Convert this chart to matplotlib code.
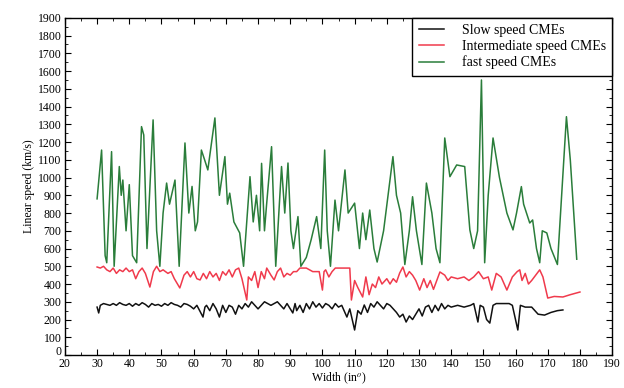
import matplotlib
matplotlib.use("Agg")
import matplotlib.pyplot as plt
from matplotlib.ticker import MultipleLocator
from matplotlib.transforms import ScaledTranslation

# fast speed CMEs (green)
fast_w = [30, 31.4, 32.5, 33, 34.5, 35.3, 36.9, 37.5, 38, 39, 40, 41, 42.3, 43.8, 44.5, 45.5,
          47.4, 48.5, 49.5, 50.5, 51.6, 52.5, 54.2, 55.5, 57.3, 58.5, 59.5, 60.5, 61.2, 62.4,
          63.4, 64.4, 66.6, 68, 69.7, 70.5, 71.2, 72.5, 74.3, 75.5, 77.5, 78.5, 79.5, 80.5,
          81.1, 82, 82.6, 84.2, 85.5, 87.3, 88.3, 89.3, 90.2, 91, 92.4, 93.3, 95, 96.5, 98.2,
          99.5, 100.7, 101.5, 102.5, 103.9, 105, 107, 108, 110, 111.5, 112.5, 113.5, 114.7,
          116, 117, 119, 121.9, 123, 124.3, 125.6, 127, 128, 129.2, 130.9, 132.3, 134, 135.3,
          136.5, 138, 139.6, 141.7, 144.2, 145.8, 147, 148.2, 149.4, 150.4, 151.5, 153, 155,
          157.3, 159.2, 160.3, 161.8, 162.5, 164.4, 165.3, 166.5, 167.5, 168.3, 169.7, 171,
          173, 175.8, 177, 179]
fast_v = [880, 1155, 560, 520, 1146, 500, 1062, 900, 986, 700, 960, 560, 520, 1287, 1240, 600,
          1325, 700, 500, 800, 969, 850, 986, 500, 1195, 800, 950, 700, 750, 1155,
          1100, 1043, 1336, 900, 1118, 850, 912, 750, 688, 500, 1005, 750, 900, 700,
          1080, 700, 836, 1174, 500, 1062, 800, 1082, 700, 600, 780, 500, 550, 650, 780,
          600, 1155, 700, 500, 873, 700, 1043, 800, 856, 600, 800, 650, 817,
          600, 524, 700, 1118, 900, 800, 510, 700, 892, 700, 510, 969, 800, 600,
          520, 1223, 1005, 1071, 1062, 705, 600, 700, 1550, 520, 900, 1223, 1000,
          800, 705, 800, 949, 850, 744, 761, 600, 520, 700, 688, 600,
          510, 1343, 1100, 540]

# intermediate speed CMEs (red)
mid_w = [30, 31, 32, 33, 34, 35, 36, 37, 38, 39, 40, 41, 42, 43, 44, 45, 46.4, 47.5, 48.5,
         49.5, 50.5, 52, 53, 54, 55.7, 57, 58, 59, 60, 61, 62, 63, 64, 65, 66, 67, 68, 69,
         70, 71, 72, 73, 74, 75, 76.5, 77, 78, 79, 80, 81, 82, 82.7, 84, 85, 86, 87, 88,
         89, 90, 91, 92, 93, 95, 97, 99, 100, 100.5, 101, 102, 103, 104, 106, 108.5, 109,
         110, 111, 112.5, 113.5, 114.5, 115.5, 116.5, 117.5, 118.5, 120, 121, 122, 123,
         124, 125, 126, 127, 128, 129, 130.2, 131.5, 132.5, 133.5, 134.5, 136.5, 138, 139,
         140, 142, 144, 145.5, 147, 148.5, 150, 151.5, 152.6, 154, 155.5, 157.3, 159,
         160.5, 161.3, 162, 163, 164, 165, 167.5, 168.5, 170, 172, 174.7, 177, 180]
mid_v = [496, 490, 500, 480, 470, 490, 460, 480, 470, 490, 470, 480, 430, 470, 490, 460, 383,
         470, 500, 470, 480, 460, 470, 430, 378, 450, 470, 440, 470, 430, 423, 460, 430,
         470, 440, 460, 420, 470, 450, 480, 440, 480, 490, 430, 310, 440, 420, 470, 380,
         470, 430, 490, 450, 423, 470, 490, 440, 460, 450, 470, 470, 490, 490, 470, 470,
         366, 470, 480, 440, 470, 490, 490, 490, 310, 420, 380, 327, 440, 340, 400, 380,
         440, 400, 430, 400, 430, 410, 462, 496, 440, 470, 450, 420, 366, 430, 380, 420,
         370, 468, 450, 420, 440, 430, 440, 420, 440, 470, 430, 440, 366, 460, 440, 366,
         440, 470, 480, 420, 460, 400, 420, 480, 440, 321, 330, 327, 340, 355]

# slow speed CMEs (black)
slow_w = [30, 30.5, 31, 32, 33, 34, 35, 36, 37, 38, 39, 40, 41, 42, 43, 44, 45, 46, 47, 48,
          49, 50, 51, 52, 53, 54, 55, 56, 57, 58, 59, 60, 61, 62.9, 63.5, 64, 65, 66, 67, 68,
          69, 70, 71, 72, 73, 74, 75, 76, 77, 78, 79, 80, 81, 82, 83, 84, 85, 86, 87, 88, 89,
          90.8, 91.5, 92, 93, 94, 95, 96, 97, 98, 99, 100, 101, 102, 103, 104, 105, 106,
          107.6, 108.5, 109, 110, 111, 112, 113, 114, 115, 116, 117, 118, 119, 120, 121, 122,
          123, 124, 125, 126, 127, 128, 129, 130, 131, 132, 133, 134, 135, 136, 137, 138,
          139, 140, 142, 144, 146, 147, 148.3, 149, 150, 151, 152, 153, 154, 156, 158, 159,
          160.7, 161.5, 163, 165, 167, 169, 171, 173, 174.7]
slow_v = [270, 237, 280, 290, 285, 280, 290, 280, 295, 285, 280, 290, 275, 290, 280, 295, 285,
          270, 290, 280, 285, 275, 290, 280, 295, 285, 280, 270, 290, 285, 275, 260, 280,
          214, 270, 280, 250, 290, 260, 214, 280, 240, 280, 270, 230, 280, 260, 290, 270,
          300, 280, 260, 280, 300, 290, 280, 290, 300, 280, 260, 290, 237, 290, 250, 280,
          240, 290, 260, 300, 270, 290, 265, 290, 280, 260, 290, 270, 280, 214, 260, 220,
          141, 250, 230, 282, 240, 290, 270, 300, 280, 260, 290, 280, 260, 240, 214, 230,
          186, 220, 200, 230, 260, 220, 270, 280, 240, 280, 250, 290, 260, 280, 270, 280,
          270, 280, 290, 186, 280, 270, 200, 180, 280, 290, 290, 290, 280, 141, 280, 270,
          270, 230, 225, 240, 250, 254]

plt.rcParams['font.family'] = 'Liberation Serif'
plt.rcParams['mathtext.fontset'] = 'stix'

fig = plt.figure(figsize=(6.24, 3.88), dpi=100)
ax = fig.add_axes([0.104, 0.085, 0.877, 0.869])

ax.plot(slow_w, slow_v, color='#111111', lw=1.1, label='Slow speed CMEs')
ax.plot(mid_w, mid_v, color='#f03a4c', lw=1.1, label='Intermediate speed CMEs')
ax.plot(fast_w, fast_v, color='#2a7d3a', lw=1.1, label='fast speed CMEs')

ax.set_xlim(20, 190)
ax.set_ylim(0, 1900)
ax.xaxis.set_major_locator(MultipleLocator(10))
ax.xaxis.set_minor_locator(MultipleLocator(5))
ax.yaxis.set_major_locator(MultipleLocator(100))
ax.yaxis.set_minor_locator(MultipleLocator(50))
ax.tick_params(which='both', direction='in', top=True, right=True, labelsize=8.5, pad=2.5)
ax.tick_params(which='major', length=4)
ax.tick_params(which='minor', length=2)
for s in ax.spines.values():
    s.set_linewidth(1.0)

ax.set_xlabel('Width (in$^{o}$)', fontsize=8.5, labelpad=0)
ax.set_ylabel('Linear speed (km/s)', fontsize=8.5, labelpad=2)

leg = ax.legend(loc='upper right', borderaxespad=0, fontsize=10, fancybox=False,
                framealpha=1, edgecolor='black', handlelength=1.8, handletextpad=1.3,
                labelspacing=0.2, borderpad=0.45)
leg.get_frame().set_linewidth(1.0)

# lift the "0" on y by a few px so it clears the "20" of x
fig.canvas.draw()
for lab in ax.get_yticklabels():
    if lab.get_text() == '0':
        lab.set_transform(lab.get_transform() + ScaledTranslation(0, 3 / 72, fig.dpi_scale_trans))

fig.savefig('out.png', dpi=100)
